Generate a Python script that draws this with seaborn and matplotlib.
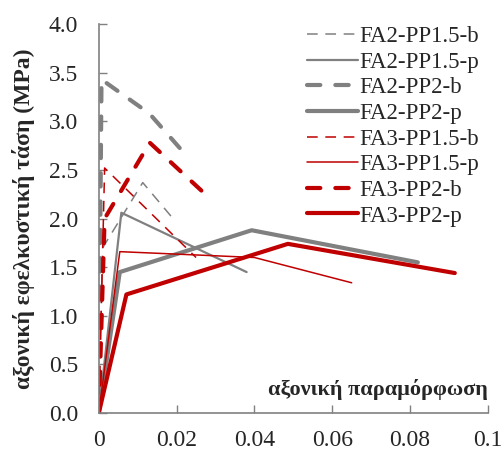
import matplotlib
matplotlib.use('Agg')
import matplotlib.pyplot as plt
import seaborn as sns
import pandas as pd

# strain / stress curves
labels = ['FA2-PP1.5-b', 'FA2-PP1.5-p', 'FA2-PP2-b', 'FA2-PP2-p',
          'FA3-PP1.5-b', 'FA3-PP1.5-p', 'FA3-PP2-b', 'FA3-PP2-p']

fa2_pp15_b_x = [0, 0.001, 0.0113, 0.0195]
fa2_pp15_b_y = [0, 1.70, 2.37, 1.98]
fa2_pp15_p_x = [0, 0.0058, 0.038]
fa2_pp15_p_y = [0, 2.06, 1.45]
fa2_pp2_b_x = [0, 0.0007, 0.013, 0.0229]
fa2_pp2_b_y = [0, 3.43, 3.08, 2.63]
fa2_pp2_p_x = [0, 0.0054, 0.0393, 0.082]
fa2_pp2_p_y = [0, 1.45, 1.88, 1.55]
fa3_pp15_b_x = [0, 0.0015, 0.025]
fa3_pp15_b_y = [0, 2.52, 1.60]
fa3_pp15_p_x = [0, 0.0054, 0.040, 0.065]
fa3_pp15_p_y = [0, 1.66, 1.60, 1.34]
fa3_pp2_b_x = [0, 0.0015, 0.0131, 0.029]
fa3_pp2_b_y = [0, 2.00, 2.78, 2.19]
fa3_pp2_p_x = [0, 0.0071, 0.0486, 0.0915]
fa3_pp2_p_y = [0, 1.22, 1.74, 1.44]

xs = [fa2_pp15_b_x, fa2_pp15_p_x, fa2_pp2_b_x, fa2_pp2_p_x,
      fa3_pp15_b_x, fa3_pp15_p_x, fa3_pp2_b_x, fa3_pp2_p_x]
ys = [fa2_pp15_b_y, fa2_pp15_p_y, fa2_pp2_b_y, fa2_pp2_p_y,
      fa3_pp15_b_y, fa3_pp15_p_y, fa3_pp2_b_y, fa3_pp2_p_y]

x_ticks = [0, 0.02, 0.04, 0.06, 0.08, 0.1]
x_tick_labels = ['0', '0.02', '0.04', '0.06', '0.08', '0.1']
y_ticks = [0, 0.5, 1.0, 1.5, 2.0, 2.5, 3.0, 3.5, 4.0]

gray = '#808080'
red = '#c00000'
styles = [
    (gray, 1.1, (7, 5)), (gray, 1.6, None), (gray, 3.0, (3.2, 3.6)), (gray, 3.0, None),
    (red, 1.1, (7, 5)), (red, 1.1, None), (red, 3.0, (3.2, 3.6)), (red, 3.0, None),
]

sns.set_style('white')
plt.rcParams['font.family'] = ['Liberation Serif', 'DejaVu Serif']

fig = plt.figure(figsize=(5.04, 4.53), dpi=100)
ax = fig.add_axes([0.196, 0.088, 0.772, 0.859])

for lab, x, y, (col, lw, dash) in zip(labels, xs, ys, styles):
    df = pd.DataFrame({'x': x, 'y': y})
    sns.lineplot(data=df, x='x', y='y', ax=ax, sort=False, color=col,
                 linewidth=lw, label=lab, estimator=None)
    l = ax.get_lines()[-1]
    if dash is not None:
        l.set_dashes(dash)
        l.set_dash_capstyle('round' if lw > 2 else 'butt')

ax.set_xlim(0, 0.1)
ax.set_ylim(0, 4.0)
ax.set_xticks(x_ticks)
ax.set_xticklabels(x_tick_labels)
ax.set_yticks(y_ticks)
ax.set_yticklabels([f'{v:.1f}' for v in y_ticks])
ax.tick_params(axis='both', direction='in', length=6, width=1, color=gray,
               labelsize=17, left=True, bottom=True)
ax.tick_params(axis='y', pad=15)
ax.tick_params(axis='x', pad=12)

for s in ['top', 'right']:
    ax.spines[s].set_visible(False)
for s in ['left', 'bottom']:
    ax.spines[s].set_color(gray)
    ax.spines[s].set_linewidth(1.2)

ax.set_xlabel('')
ax.set_ylabel('αξονική εφελκυστική τάση (MPa)', fontsize=17, fontweight='bold')
ax.yaxis.set_label_coords(-0.165, 0.5)
ax.text(1.0, 0.035, 'αξονική παραμόρφωση', transform=ax.transAxes,
        ha='right', va='bottom', fontsize=16, fontweight='bold')

ax.legend(loc='upper right', bbox_to_anchor=(1.012, 1.03), frameon=False,
          fontsize=16.5, handlelength=2.2, handletextpad=0.05, labelspacing=0.2,
          borderaxespad=0.2)

fig.savefig('out.png', dpi=100)
